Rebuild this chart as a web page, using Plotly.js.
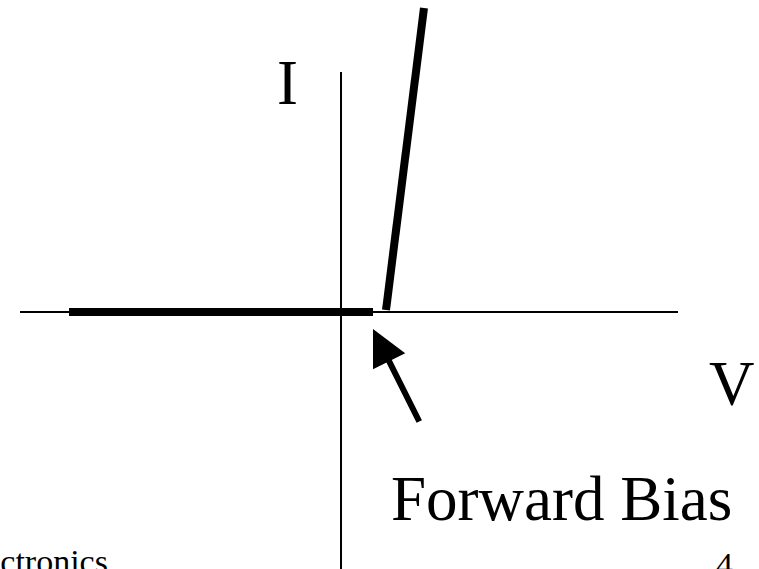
<!DOCTYPE html>
<html>
<head>
<meta charset="utf-8">
<script src="https://cdn.plot.ly/plotly-3.0.1.min.js"></script>
<style>html,body{margin:0;padding:0;background:#fff;}#chart{width:759px;height:569px;}</style>
</head>
<body>
<div id="chart"></div>
<script>
// Coordinate system: V (horizontal), I (vertical); origin at the axes crossing
var xRange = [-341, 418];
var yRange = [-257, 312];

// Axes drawn as lines
var vAxisLineV = [-321, 337];
var vAxisLineI = [0, 0];
var iAxisLineV = [0, 0];
var iAxisLineI = [240, -262];

// Diode characteristic: reverse (flat) part and forward (steep) part
var reverseV = [-272, 32];
var reverseI = [0, 0];
var forwardV = [45, 83];
var forwardI = [2, 304];

// Arrow pointing at the knee (tip and tail)
var arrowTip = [32, -17];
var arrowTail = [79, -111];

// Text labels
var labelText = ["I", "V", "Forward Bias"];
var labelX = [-53.5, 390.5, 220];
var labelY = [229.5, -71.5, -186.5];
var footerText = ["Electronics", "4"];
var footerX = [-231, 394];
var footerY = [-249.5, -252.5];

var serif = '"Liberation Serif", "Times New Roman", Times, "DejaVu Serif", serif';

var traces = [
  {x: vAxisLineV, y: vAxisLineI, mode: 'lines', line: {color: '#000', width: 2}, hoverinfo: 'skip'},
  {x: iAxisLineV, y: iAxisLineI, mode: 'lines', line: {color: '#000', width: 2}, hoverinfo: 'skip'},
  {x: reverseV, y: reverseI, mode: 'lines', line: {color: '#000', width: 8}, hoverinfo: 'skip'},
  {x: forwardV, y: forwardI, mode: 'lines', line: {color: '#000', width: 8}, hoverinfo: 'skip'}
];

var annotations = [];
for (var i = 0; i < labelText.length; i++) {
  annotations.push({
    x: labelX[i], y: labelY[i], xref: 'x', yref: 'y', text: labelText[i],
    showarrow: false, xanchor: 'center', yanchor: 'middle',
    font: {family: serif, size: 63, color: '#000'}
  });
}
for (var j = 0; j < footerText.length; j++) {
  annotations.push({
    x: footerX[j], y: footerY[j], xref: 'x', yref: 'y', text: footerText[j],
    showarrow: false, xanchor: 'right', yanchor: 'middle',
    font: {family: serif, size: 34, color: '#000'}
  });
}
annotations.push({
  x: arrowTip[0], y: arrowTip[1], ax: arrowTail[0], ay: arrowTail[1],
  xref: 'x', yref: 'y', axref: 'x', ayref: 'y', text: '',
  showarrow: true, arrowhead: 2, arrowsize: 1.2, arrowwidth: 6,
  arrowcolor: '#000', standoff: 0
});

var layout = {
  width: 759, height: 569,
  margin: {l: 0, r: 0, t: 0, b: 0, pad: 0},
  paper_bgcolor: '#fff', plot_bgcolor: '#fff',
  showlegend: false,
  font: {family: serif},
  xaxis: {range: xRange, visible: false, fixedrange: true},
  yaxis: {range: yRange, visible: false, fixedrange: true},
  annotations: annotations
};

Plotly.newPlot('chart', traces, layout, {displayModeBar: false, staticPlot: true});
</script>
</body>
</html>
